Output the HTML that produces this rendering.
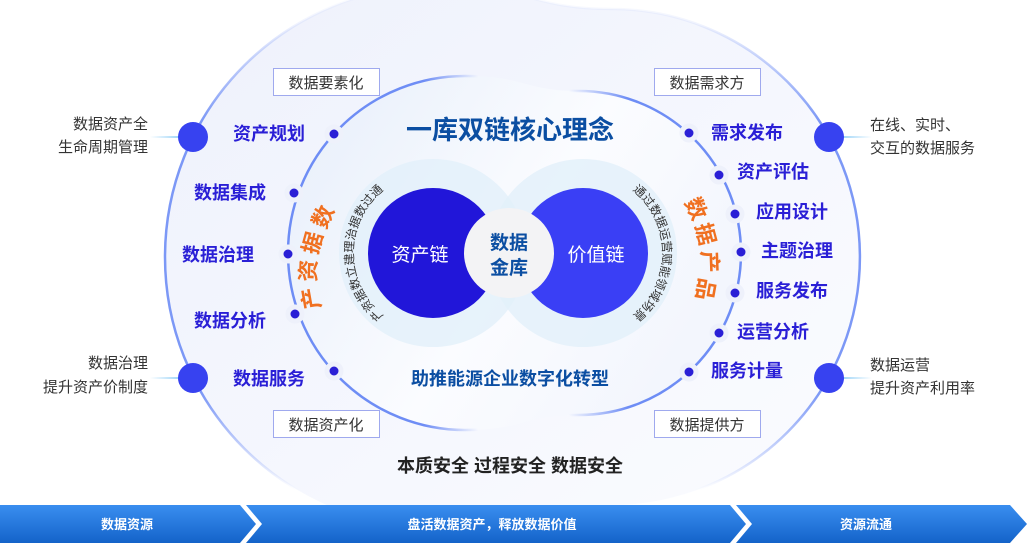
<!DOCTYPE html>
<html><head><meta charset="utf-8"><style>
html,body{margin:0;padding:0;background:#fff;}
svg{display:block;font-family:"Liberation Sans","Noto Sans CJK SC",sans-serif;}
</style></head><body>
<svg width="1027" height="543" viewBox="0 0 1027 543" xmlns="http://www.w3.org/2000/svg">
<defs>
<linearGradient id="og" x1="0" y1="0" x2="0" y2="1">
<stop offset="0" stop-color="#6e8df5" stop-opacity="0"/>
<stop offset="0.07" stop-color="#6e8df5" stop-opacity="0.1"/>
<stop offset="0.25" stop-color="#6e8df5" stop-opacity="0.9"/>
<stop offset="0.75" stop-color="#6e8df5" stop-opacity="0.9"/>
<stop offset="0.93" stop-color="#6e8df5" stop-opacity="0"/>
</linearGradient>
<linearGradient id="ig" x1="0" y1="0" x2="1" y2="0">
<stop offset="0" stop-color="#6e8df5"/>
<stop offset="0.3" stop-color="#6e8df5"/>
<stop offset="0.42" stop-color="#6e8df5" stop-opacity="0"/>
<stop offset="0.62" stop-color="#6e8df5" stop-opacity="0"/>
<stop offset="0.75" stop-color="#6e8df5"/>
<stop offset="1" stop-color="#6e8df5"/>
</linearGradient>
<linearGradient id="ofill" x1="0" y1="0" x2="1" y2="1">
<stop offset="0" stop-color="#eef1fc"/>
<stop offset="1" stop-color="#fbfcff"/>
</linearGradient>
<linearGradient id="ifill" x1="0" y1="0" x2="1" y2="0.5">
<stop offset="0" stop-color="#e6eefa"/>
<stop offset="0.6" stop-color="#fbfcff"/>
<stop offset="1" stop-color="#f3f6fd"/>
</linearGradient>
<linearGradient id="band" x1="0" y1="0" x2="0" y2="1">
<stop offset="0" stop-color="#3a8ef0"/>
<stop offset="1" stop-color="#1463c9"/>
</linearGradient>
<linearGradient id="ll" x1="0" y1="0" x2="1" y2="0">
<stop offset="0" stop-color="#7cc6f5" stop-opacity="0"/>
<stop offset="1" stop-color="#7cc6f5"/>
</linearGradient>
<linearGradient id="rl" x1="0" y1="0" x2="1" y2="0">
<stop offset="0" stop-color="#7cc6f5"/>
<stop offset="1" stop-color="#7cc6f5" stop-opacity="0"/>
</linearGradient>
<path id="larc" d="M403,327 A80,80 0 0 1 403,179"/>
<path id="rarc" d="M613,179 A80,80 0 0 1 613,327"/>
</defs>

<path d="M436,-14 A271,271 0 0 0 436,528 C530,528 530,505 612,505 A248,248 0 0 0 612,9 C530,9 530,-14 436,-14 Z" fill="url(#ofill)" stroke="url(#og)" stroke-width="2.5"/>
<path d="M465,76 A177,177 0 0 0 465,430 C525,430 525,415 579,415 A162,162 0 0 0 579,91 C525,91 525,76 465,76 Z" fill="url(#ifill)" stroke="url(#ig)" stroke-width="2.5"/>

<circle cx="433" cy="253" r="94" fill="#e2f0fa" opacity="0.8"/>
<circle cx="583" cy="253" r="94" fill="#e2f0fa" opacity="0.8"/>
<circle cx="433" cy="253" r="65" fill="#2116d9"/>
<circle cx="583" cy="253" r="65" fill="#3a3ff5"/>
<circle cx="509" cy="253" r="45" fill="#f3f3f5"/>

<text x="420" y="261" font-size="19" fill="#fff" text-anchor="middle">资产链</text>
<text x="596" y="261" font-size="19" fill="#fff" text-anchor="middle">价值链</text>
<text x="509" y="249" font-size="19" font-weight="bold" fill="#0b4ea2" text-anchor="middle">数据</text>
<text x="509" y="274" font-size="19" font-weight="bold" fill="#0b4ea2" text-anchor="middle">金库</text>

<text font-size="12" fill="#333"><textPath href="#larc" startOffset="50%" text-anchor="middle">产资据数立建理治据数过通</textPath></text>
<text font-size="12" fill="#333"><textPath href="#rarc" startOffset="50%" text-anchor="middle">通过数据运营赋能领域场景</textPath></text>

<text x="510" y="139" font-size="26" font-weight="bold" fill="#0b4ea2" text-anchor="middle">一库双链核心理念</text>
<text x="510" y="385" font-size="18" font-weight="bold" fill="#0b4ea2" text-anchor="middle">助推能源企业数字化转型</text>
<text x="510" y="472" font-size="18" font-weight="bold" fill="#222" text-anchor="middle">本质安全 过程安全 数据安全</text>

<g font-size="22" font-weight="bold" fill="#f07020" text-anchor="middle">
<text transform="translate(330,220) rotate(-65)">数</text>
<text transform="translate(320,245) rotate(-75)">据</text>
<text transform="translate(316,271) rotate(-88)">资</text>
<text transform="translate(319,297) rotate(-100)">产</text>
<text transform="translate(689,212) rotate(65)">数</text>
<text transform="translate(698,236) rotate(75)">据</text>
<text transform="translate(702,262) rotate(88)">产</text>
<text transform="translate(698,288) rotate(100)">品</text>
</g>

<g font-size="15" fill="#333" text-anchor="middle">
<rect x="273.5" y="68.5" width="106" height="27" fill="#fff" stroke="#9fa9ee"/>
<text x="326" y="88">数据要素化</text>
<rect x="273.5" y="410.5" width="106" height="27" fill="#fff" stroke="#9fa9ee"/>
<text x="326" y="430">数据资产化</text>
<rect x="654.5" y="68.5" width="106" height="27" fill="#fff" stroke="#9fa9ee"/>
<text x="707" y="88">数据需求方</text>
<rect x="654.5" y="410.5" width="106" height="27" fill="#fff" stroke="#9fa9ee"/>
<text x="707" y="430">数据提供方</text>
</g>

<rect x="150" y="136" width="40" height="2" fill="url(#ll)"/>
<rect x="150" y="377" width="40" height="2" fill="url(#ll)"/>
<rect x="832" y="136" width="40" height="2" fill="url(#rl)"/>
<rect x="832" y="377" width="40" height="2" fill="url(#rl)"/>
<circle cx="193" cy="137" r="15" fill="#3742f0"/>
<circle cx="193" cy="378" r="15" fill="#3742f0"/>
<circle cx="829" cy="137" r="15" fill="#3742f0"/>
<circle cx="829" cy="378" r="15" fill="#3742f0"/>

<g font-size="15" fill="#333">
<text x="148" y="129" text-anchor="end">数据资产全</text>
<text x="148" y="152" text-anchor="end">生命周期管理</text>
<text x="148" y="368" text-anchor="end">数据治理</text>
<text x="148" y="392" text-anchor="end">提升资产价制度</text>
<text x="870" y="130">在线、实时、</text>
<text x="870" y="153">交互的数据服务</text>
<text x="870" y="370">数据运营</text>
<text x="870" y="393">提升资产利用率</text>
</g>

<g fill="#2a1fd6" stroke="#eef1fb" stroke-width="5">
<circle cx="334" cy="134" r="7"/>
<circle cx="294" cy="193" r="7"/>
<circle cx="288" cy="254" r="7"/>
<circle cx="295" cy="314" r="7"/>
<circle cx="334" cy="371" r="7"/>
<circle cx="689" cy="133" r="7"/>
<circle cx="719" cy="175" r="7"/>
<circle cx="735" cy="214" r="7"/>
<circle cx="741" cy="252" r="7"/>
<circle cx="735" cy="293" r="7"/>
<circle cx="719" cy="333" r="7"/>
<circle cx="689" cy="372" r="7"/>
</g>

<g font-size="18" font-weight="bold" fill="#2a1fd6">
<text x="233" y="140">资产规划</text>
<text x="194" y="199">数据集成</text>
<text x="182" y="261">数据治理</text>
<text x="194" y="327">数据分析</text>
<text x="233" y="385">数据服务</text>
<text x="711" y="139">需求发布</text>
<text x="737" y="178">资产评估</text>
<text x="756" y="218">应用设计</text>
<text x="761" y="257">主题治理</text>
<text x="756" y="297">服务发布</text>
<text x="737" y="338">运营分析</text>
<text x="711" y="377">服务计量</text>
</g>

<polygon points="0,505 240,505 256,524 240,543 0,543" fill="url(#band)"/>
<polygon points="246,505 730,505 746,524 730,543 246,543 262,524" fill="url(#band)"/>
<polygon points="736,505 1010,505 1027,524 1010,543 736,543 752,524" fill="url(#band)"/>
<g font-size="13" font-weight="bold" fill="#fff" text-anchor="middle">
<text x="127" y="529">数据资源</text>
<text x="492" y="529">盘活数据资产，释放数据价值</text>
<text x="866" y="529">资源流通</text>
</g>
</svg>
</body></html>
